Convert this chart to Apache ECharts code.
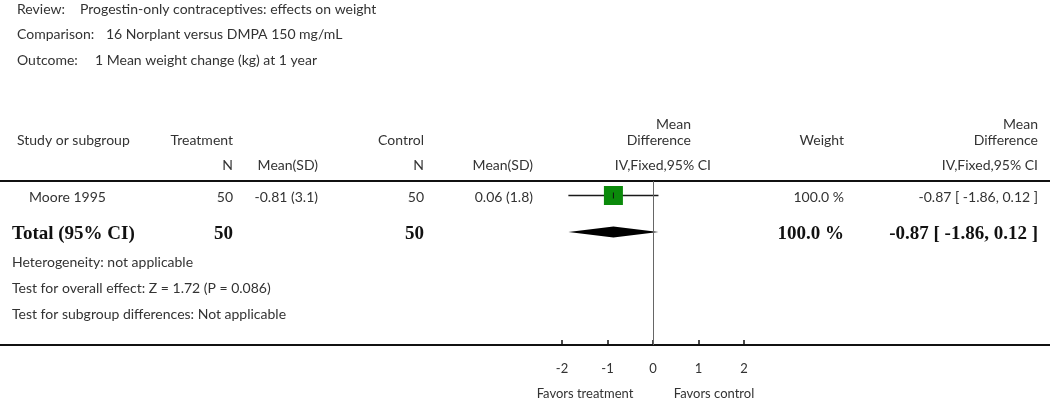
<!DOCTYPE html>
<html>
<head>
<meta charset="utf-8">
<script src="https://cdn.jsdelivr.net/npm/echarts@6/dist/echarts.min.js"></script>
<style>
  html, body { margin: 0; padding: 0; background: #fff; }
  #chart { width: 1050px; height: 400px; }
</style>
</head>
<body>
<div id="chart"></div>
<script>
// review info
const infoLabels = ['Review:', 'Comparison:', 'Outcome:']
const infoValues = ['Progestin-only contraceptives: effects on weight', '16 Norplant versus DMPA 150 mg/mL', '1 Mean weight change (kg) at 1 year']

// studies
const studyNames = ['Moore 1995']
const treatN = [50]
const treatMean = [-0.81]
const treatSD = [3.1]
const ctrlN = [50]
const ctrlMean = [0.06]
const ctrlSD = [1.8]
const md = [-0.87]
const ciLow = [-1.86]
const ciHigh = [0.12]
const weights = ['100.0 %']

// pooled
const totalN = [50, 50]
const totalMd = -0.87
const totalLow = -1.86
const totalHigh = 0.12
const totalWeight = '100.0 %'

const footLines = ['Heterogeneity: not applicable', 'Test for overall effect: Z = 1.72 (P = 0.086)', 'Test for subgroup differences: Not applicable']
const tickValues = [-2, -1, 0, 1, 2]

const chart = echarts.init(document.getElementById('chart'))
const sans = 'Lato, "Open Sans", sans-serif'
const serif = '"Liberation Serif", "DejaVu Serif", serif'
const txtColor = '#333'

function txt(x, y, text, align, opts) {
  return {
    type: 'text', x: x, y: y, silent: true,
    style: Object.assign({
      text: text, fill: txtColor, font: '14px ' + sans,
      textAlign: align || 'left', textVerticalAlign: 'middle'
    }, opts || {})
  }
}
function boldTxt(x, y, text, align) {
  return txt(x, y, text, align, { font: 'bold 19px ' + serif, fill: '#111' })
}
function fmt(v) { return v.toFixed(2) }
function ciText(m, l, h) { return fmt(m) + ' [ ' + fmt(l) + ', ' + fmt(h) + ' ]' }

const graphics = []
const infoX = [80, 106, 95]
infoLabels.forEach((l, i) => {
  graphics.push(txt(17, 9 + i * 25.5, l))
  graphics.push(txt(infoX[i], 9 + i * 25.5, infoValues[i]))
})

// headers
graphics.push(txt(17, 140, 'Study or subgroup'))
graphics.push(txt(233, 140, 'Treatment', 'right'))
graphics.push(txt(424, 140, 'Control', 'right'))
graphics.push(txt(691, 124, 'Mean', 'right'))
graphics.push(txt(691, 140, 'Difference', 'right'))
graphics.push(txt(844, 140, 'Weight', 'right'))
graphics.push(txt(1038, 124, 'Mean', 'right'))
graphics.push(txt(1038, 140, 'Difference', 'right'))
graphics.push(txt(233, 165, 'N', 'right'))
graphics.push(txt(318, 165, 'Mean(SD)', 'right'))
graphics.push(txt(424, 165, 'N', 'right'))
graphics.push(txt(533, 165, 'Mean(SD)', 'right'))
graphics.push(txt(711, 165, 'IV,Fixed,95% CI', 'right'))
graphics.push(txt(1038, 165, 'IV,Fixed,95% CI', 'right'))

// study rows
studyNames.forEach((s, i) => {
  const y = 197 + i * 26
  graphics.push(txt(29, y, s))
  graphics.push(txt(233, y, String(treatN[i]), 'right'))
  graphics.push(txt(318, y, fmt(treatMean[i]) + ' (' + treatSD[i].toFixed(1) + ')', 'right'))
  graphics.push(txt(424, y, String(ctrlN[i]), 'right'))
  graphics.push(txt(533, y, fmt(ctrlMean[i]) + ' (' + ctrlSD[i].toFixed(1) + ')', 'right'))
  graphics.push(txt(844, y, weights[i], 'right'))
  graphics.push(txt(1038, y, ciText(md[i], ciLow[i], ciHigh[i]), 'right'))
})

// total row
graphics.push(boldTxt(12, 234, 'Total (95% CI)'))
graphics.push(boldTxt(233, 234, String(totalN[0]), 'right'))
graphics.push(boldTxt(424, 234, String(totalN[1]), 'right'))
graphics.push(boldTxt(844, 234, totalWeight, 'right'))
graphics.push(boldTxt(1038, 234, ciText(totalMd, totalLow, totalHigh), 'right'))

footLines.forEach((f, i) => graphics.push(txt(12, 262 + i * 26, f)))

graphics.push(txt(585, 394, 'Favors treatment', 'center', { font: '13px ' + sans }))
graphics.push(txt(714, 394, 'Favors control', 'center', { font: '13px ' + sans }))

// rule lines
graphics.push({ type: 'line', silent: true, shape: { x1: 0, y1: 181, x2: 1050, y2: 181 }, style: { stroke: '#111', lineWidth: 2 } })
graphics.push({ type: 'line', silent: true, shape: { x1: 0, y1: 345, x2: 1050, y2: 345 }, style: { stroke: '#111', lineWidth: 2 } })

const option = {
  animation: false,
  grid: { left: 562, width: 182, top: 181, height: 164 },
  xAxis: {
    type: 'value', min: -2, max: 2, interval: 1,
    axisLine: { show: true, onZero: false, lineStyle: { color: '#111', width: 2 } },
    axisTick: { show: true, inside: true, length: 5, lineStyle: { color: '#111', width: 1.5 } },
    axisLabel: { color: txtColor, fontFamily: sans, fontSize: 13, margin: 17,
      formatter: v => tickValues.indexOf(v) >= 0 ? String(v) : '' },
    splitLine: { show: false }
  },
  yAxis: { type: 'value', min: -0.378, max: 4.054, inverse: true, show: false },
  graphic: graphics,
  series: [
    {
      type: 'custom',
      clip: false,
      renderItem: function (params, api) {
        const l = api.coord([api.value(0), api.value(3)])
        const h = api.coord([api.value(1), api.value(3)])
        const m = api.coord([api.value(2), api.value(3)])
        const y = Math.round(m[1]) + 0.5
        return {
          type: 'group',
          children: [
            { type: 'line', shape: { x1: l[0], y1: y, x2: h[0], y2: y }, style: { stroke: '#1a1a1a', lineWidth: 1.5 } },
            { type: 'rect', shape: { x: m[0] - 9.5, y: y - 9.5, width: 19, height: 19 }, style: { fill: '#0b8a0b' } },
            { type: 'line', shape: { x1: m[0], y1: y - 3, x2: m[0], y2: y + 3 }, style: { stroke: '#111', lineWidth: 1 } }
          ]
        }
      },
      data: studyNames.map((s, i) => [ciLow[i], ciHigh[i], md[i], i]),
      markLine: {
        silent: true, symbol: 'none', label: { show: false },
        lineStyle: { color: '#666', width: 1, type: 'solid' },
        data: [{ xAxis: 0 }]
      }
    },
    {
      type: 'custom',
      clip: false,
      renderItem: function (params, api) {
        const row = api.value(3)
        const l = api.coord([api.value(0), row])
        const h = api.coord([api.value(1), row])
        const m = api.coord([api.value(2), row])
        return {
          type: 'polygon',
          shape: { points: [[l[0], l[1]], [m[0], m[1] - 5.5], [h[0], h[1]], [m[0], m[1] + 5.5]] },
          style: { fill: '#000' }
        }
      },
      data: [[totalLow, totalHigh, totalMd, studyNames.length]]
    }
  ]
}
chart.setOption(option)
</script>
</body>
</html>
